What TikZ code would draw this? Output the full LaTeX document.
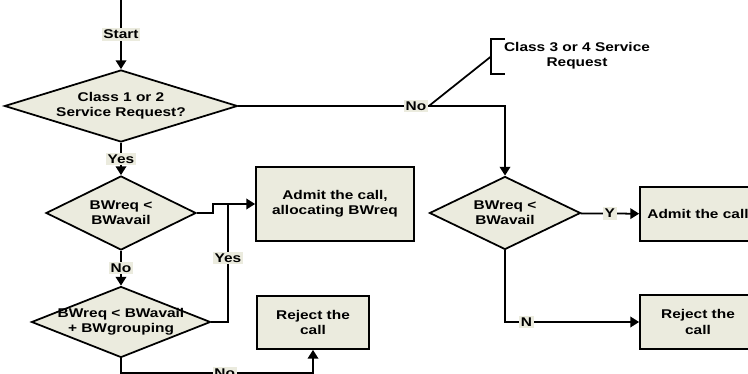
\documentclass[tikz,border=0pt]{standalone}
\usepackage{fontspec}
\setmainfont{Liberation Sans}[FakeStretch=1.22]
\usetikzlibrary{shapes.geometric,arrows.meta}
\definecolor{boxfill}{RGB}{235,235,222}

\begin{document}
\begin{tikzpicture}[
    >={Triangle[width=6pt,length=5pt]},
    line width=1pt,
    every node/.style={font=\fontsize{7.2}{8.6}\selectfont\bfseries, align=center},
    test/.style={diamond, draw, fill=boxfill, inner sep=0pt},
    box/.style={rectangle, draw, fill=boxfill},
    lab/.style={fill=boxfill, inner sep=1pt}
  ]
    \clip (0, 0) rectangle (14.96, 7.48);

    % left column
    \coordinate (top) at (2.42, 7.48);
    \node (cls) [test, minimum width=4.66cm, minimum height=1.44cm,
      label=center:{Class 1 or 2\\Service Request?}] at (2.42, 5.36) {};
    \node (req) [test, minimum width=3.0cm, minimum height=1.48cm,
      label=center:{BWreq <\\BWavail}] at (2.42, 3.22) {};
    \node (grp) [test, minimum width=3.58cm, minimum height=1.42cm,
      label=center:{BWreq < BWavail\\+ BWgrouping}] at (2.42, 1.04) {};
    \node (admit) [box, minimum width=3.16cm, minimum height=1.48cm] at (6.70, 3.40) {Admit the call,\\allocating BWreq};
    \node (reject) [box, minimum width=2.24cm, minimum height=1.06cm] at (6.26, 1.03) {Reject the\\call};
    \coordinate (yesup) at (4.56, 3.40);

    \draw [->] (top) -- node [lab] {Start} (cls);
    \draw [->] (cls) -- node [lab] {Yes} (req);
    \draw [->] (req) -- node [lab] {No} (grp);
    \draw [->] (req.east) -- ++(0.32, 0) |- (admit.west);
    \draw (grp.east) -| node [lab, pos=0.77] {Yes} (yesup);
    \draw [->] (grp.south) -- ++(0, -0.29) -| node [lab, pos=0.27] {No} (reject.south);

    % right column
    \node (yn) [test, minimum width=3.02cm, minimum height=1.46cm,
      label=center:{BWreq <\\BWavail}] at (10.10, 3.22) {};
    \node (admitR) [box, minimum width=2.32cm, minimum height=1.08cm] at (13.96, 3.20) {Admit the call};
    \node (rejectR) [box, minimum width=2.32cm, minimum height=1.08cm] at (13.96, 1.04) {Reject the\\call};

    \draw [->] (cls.east) -| node (nolab) [lab, pos=0.333] {No} (yn.north);
    \draw [->] (yn) -- node [lab] {Y} (admitR);
    \draw [->] (yn.south) |- node [lab, pos=0.58] {N} (rejectR.west);

    % callout for the other classes
    \node (note) at (11.54, 6.36) {Class 3 or 4 Service\\Request};
    \coordinate (brk) at (9.82, 6.35);
    \draw (nolab.east) -- (brk);
    \draw (10.10, 6.70) -- (9.82, 6.70) -- (9.82, 6.00) -- (10.10, 6.00);
\end{tikzpicture}
\end{document}
